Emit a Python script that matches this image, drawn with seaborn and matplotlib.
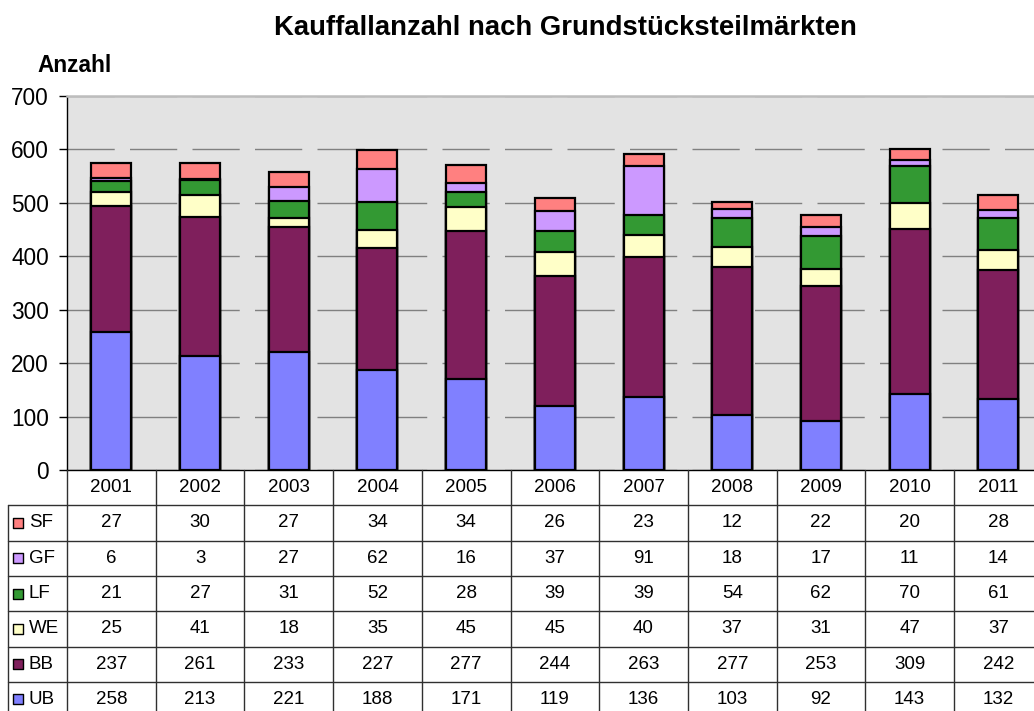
import numpy as np
import pandas as pd
import matplotlib
matplotlib.use("Agg")
import matplotlib.pyplot as plt
import seaborn as sns

years = ['2001', '2002', '2003', '2004', '2005', '2006', '2007', '2008', '2009', '2010', '2011']
sf = [27, 30, 27, 34, 34, 26, 23, 12, 22, 20, 28]
gf = [6, 3, 27, 62, 16, 37, 91, 18, 17, 11, 14]
lf = [21, 27, 31, 52, 28, 39, 39, 54, 62, 70, 61]
we = [25, 41, 18, 35, 45, 45, 40, 37, 31, 47, 37]
bb = [237, 261, 233, 227, 277, 244, 263, 277, 253, 309, 242]
ub = [258, 213, 221, 188, 171, 119, 136, 103, 92, 143, 132]

# stacking order bottom -> top
stack_names = ['UB', 'BB', 'WE', 'LF', 'GF', 'SF']
stack_values = [ub, bb, we, lf, gf, sf]
colors = {'UB': '#8080ff', 'BB': '#7f1f5c', 'WE': '#ffffc8', 'LF': '#339933',
          'GF': '#cc99ff', 'SF': '#ff8080'}

sns.set_style("white")
plt.rcParams['font.family'] = ['Liberation Sans', 'DejaVu Sans']
plt.rcParams['text.color'] = 'black'
plt.rcParams['ytick.color'] = 'black'
plt.rcParams['ytick.labelcolor'] = 'black'

W, H = 1034, 711
fig = plt.figure(figsize=(W / 100, H / 100), dpi=100)

# pixel geometry of the plot area
left_px, col_px = 67, 88.7
top_px, zero_px = 96, 470
ax = fig.add_axes([left_px / W, 1 - zero_px / H, 11 * col_px / W, (zero_px - top_px) / H])
ax.set_facecolor('#e3e3e3')

df = pd.DataFrame({'year': years})
cum = np.zeros(len(years))
for name, vals in zip(stack_names, stack_values):
    cum = cum + np.array(vals)
    df[name] = cum

# draw cumulative totals from the top segment down so lower ones overlay
for name in reversed(stack_names):
    sns.barplot(data=df, x='year', y=name, color=colors[name], saturation=1,
                edgecolor='black', linewidth=1.6, width=0.45, errorbar=None, ax=ax)

ax.set_xlim(-0.5, 10.5)
ax.set_ylim(0, 700)
ax.set_yticks(range(0, 701, 100))
ax.set_xlabel('')
ax.set_ylabel('')
ax.tick_params(axis='x', length=0, labelbottom=False)
ax.tick_params(axis='y', length=6, width=1, direction='out', pad=7, labelsize=16.3, left=True,
               colors='black')
ax.set_axisbelow(True)
ax.yaxis.grid(True, color='#808080', linewidth=1, linestyle=(0, (34, 11)))
for s in ['left', 'bottom']:
    ax.spines[s].set_color('black')
    ax.spines[s].set_linewidth(1)
ax.spines['top'].set_color('#bdbdbd')
ax.spines['top'].set_linewidth(1.8)
ax.spines['right'].set_visible(False)

# data table below the plot
row_px = 35.3
n_rows = 7
tax = fig.add_axes([left_px / W, 1 - (zero_px + n_rows * row_px) / H,
                    11 * col_px / W, n_rows * row_px / H])
tax.set_xlim(-0.5, 10.5)
tax.set_ylim(n_rows, 0)
tax.axis('off')

fs = 13.5
lab_left = -0.5 - (left_px - 8) / col_px
line_kw = dict(color='#303030', linewidth=1, clip_on=False)
for r in range(1, n_rows):
    tax.plot([lab_left, 10.5], [r, r], **line_kw)
for c in np.arange(-0.5, 10.5, 1.0):
    tax.plot([c, c], [0, n_rows], **line_kw)
tax.plot([lab_left, lab_left], [1, n_rows], **line_kw)

for i, y in enumerate(years):
    tax.text(i, 0.5, y, ha='center', va='center', fontsize=fs)

table_rows = list(zip(reversed(stack_names), reversed(stack_values)))
for r, (name, vals) in enumerate(table_rows, start=1):
    for i, v in enumerate(vals):
        tax.text(i, r + 0.5, str(v), ha='center', va='center', fontsize=fs)
    tax.scatter([-0.5 - (left_px - 18) / col_px], [r + 0.5], marker='s', s=60,
                color=colors[name], edgecolor='black', linewidth=1, clip_on=False)
    tax.text(-0.5 - (left_px - 29) / col_px, r + 0.5, name, ha='left', va='center',
             fontsize=fs)

fig.text(565 / W, 1 - 28 / H, 'Kauffallanzahl nach Grundstücksteilmärkten',
         ha='center', va='center', fontsize=19.8, fontweight='bold')
fig.text(37 / W, 1 - 65 / H, 'Anzahl', ha='left', va='center',
         fontsize=16.3, fontweight='bold')

fig.savefig('out.png', dpi=100)
